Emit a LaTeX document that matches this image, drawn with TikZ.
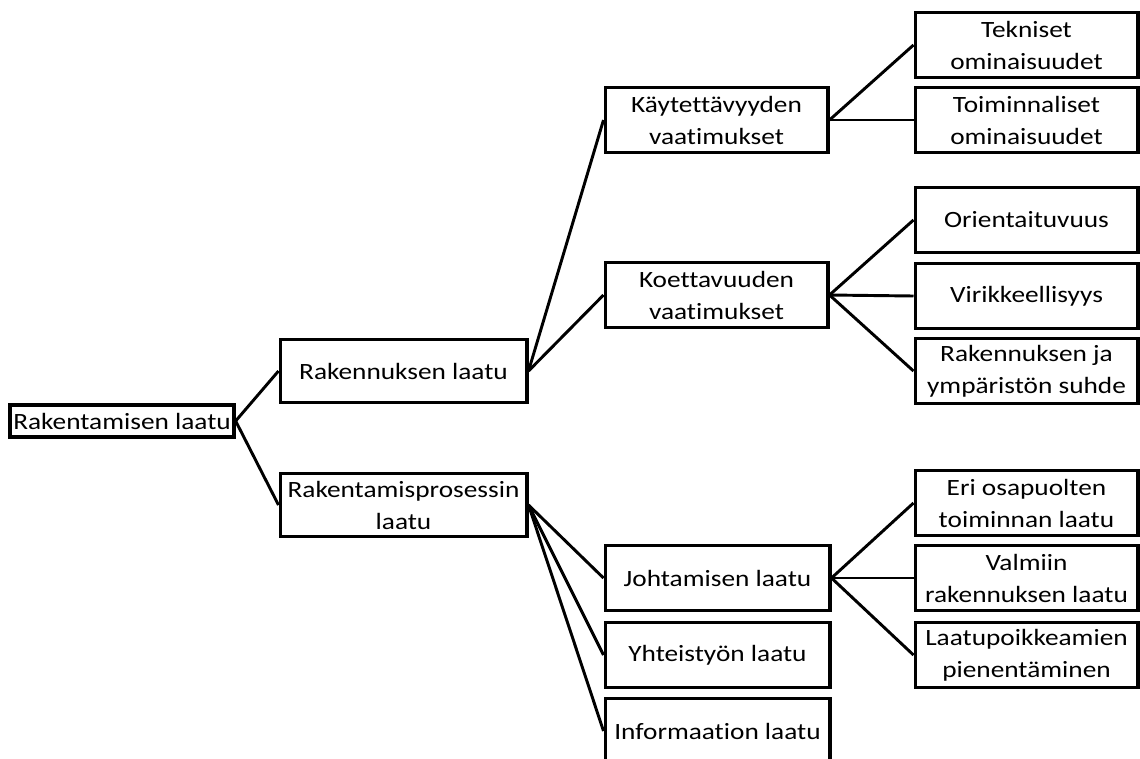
\documentclass[tikz,border=0pt]{standalone}
\usepackage{fontspec}
\setmainfont{Carlito}[FakeStretch=1.17, Ligatures=NoCommon]
\usepackage{tikz}
\tikzset{
laatubox/.style={rectangle, draw=black!100,fill=white,line width=2.5pt, inner sep=0pt, align=center, minimum width= 167pt, minimum height = 48.5pt, font=\fontsize{17.5}{24}\selectfont},
widebox/.style={laatubox, minimum width= 185pt, minimum height = 47.5pt},
rootbox/.style={laatubox, minimum width= 168pt, minimum height = 24pt},
laatuline/.style={draw=black!100, line width=2.2pt},
}
\begin{document}
\begin{tikzpicture}[x=0.75pt,y=-0.75pt]
\useasboundingbox (0,0) rectangle (1140,758);
\clip (0,0) rectangle (1140,758);
\node[rootbox] at (122,421) (rakentaminen) {Rakentamisen laatu};
\node[widebox] at (403.5,371) (rakennus) {Rakennuksen laatu};
\node[widebox] at (403.5,505) (prosessi) {Rakentamisprosessin\\laatu};

\node[laatubox] at (716.5,120) (kaytto) {Käytettävyyden\\vaatimukset};
\node[laatubox] at (716.5,295) (koettavuus) {Koettavuuden\\vaatimukset};
\node[laatubox] at (1026.5,45) (tekniset) {Tekniset\\ominaisuudet};
\node[laatubox] at (1026.5,120) (toiminnaliset) {Toiminnaliset\\ominaisuudet};
\node[laatubox] at (1026.5,220) (orientaitu) {Orientaituvuus};
\node[laatubox] at (1026.5,296) (virikkeet) {Virikkeellisyys};
\node[laatubox] at (1026.5,371) (ymparisto) {Rakennuksen ja\\ympäristön suhde};

\node[laatubox, minimum width = 168.5pt] at (717.5,578) (johtaminen) {Johtamisen laatu};
\node[laatubox, minimum width = 168.5pt] at (717.5,655) (yhteistyo) {Yhteistyön laatu};
\node[laatubox, minimum width = 168.5pt] at (717.5,731) (informaatio) {Informaation laatu};
\node[laatubox] at (1026.5,503) (osapuolet) {Eri osapuolten\\toiminnan laatu};
\node[laatubox] at (1026.5,578) (valmis) {Valmiin\\rakennuksen laatu};
\node[laatubox] at (1026.5,655) (poikkeamat) {Laatupoikkeamien\\pienentäminen};

\draw[laatuline] (rakentaminen.east) -- (rakennus.west);
\draw[laatuline] (rakentaminen.east) -- (prosessi.west);
\draw[laatuline] (rakennus.east) -- (kaytto.west);
\draw[laatuline] (rakennus.east) -- (koettavuus.west);
\draw[laatuline] (kaytto.east) -- (tekniset.west);
\draw[laatuline] (kaytto.east) -- (toiminnaliset.west);
\draw[laatuline] (koettavuus.east) -- (orientaitu.west);
\draw[laatuline] (koettavuus.east) -- (virikkeet.west);
\draw[laatuline] (koettavuus.east) -- (ymparisto.west);
\draw[laatuline] (prosessi.east) -- (johtaminen.west);
\draw[laatuline] (prosessi.east) -- (yhteistyo.west);
\draw[laatuline] (prosessi.east) -- (informaatio.west);
\draw[laatuline] (johtaminen.east) -- (osapuolet.west);
\draw[laatuline] (johtaminen.east) -- (valmis.west);
\draw[laatuline] (johtaminen.east) -- (poikkeamat.west);
\end{tikzpicture}
\end{document}
